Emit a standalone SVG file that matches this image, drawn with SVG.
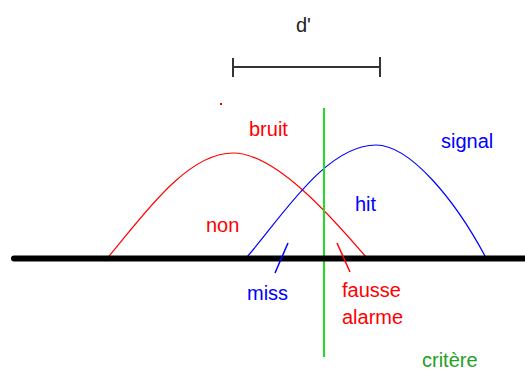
<svg xmlns="http://www.w3.org/2000/svg" width="525" height="372" viewBox="0 0 525 372">
<style>
text{font-family:"Liberation Sans",Arial,sans-serif;font-size:20px}
.r{fill:#ff0000}.b{fill:#0000ff}.g{fill:#22a022}.k{fill:#222}
.cr{fill:none;stroke:#ff0000;stroke-width:1.2}
.cb{fill:none;stroke:#0000ff;stroke-width:1.2}
</style>
<rect width="525" height="372" fill="#fff"/>
<g id="dprime">
<line x1="233" y1="67" x2="380" y2="67" stroke="#333" stroke-width="2"/>
<line x1="233" y1="58" x2="233" y2="77" stroke="#333" stroke-width="2"/>
<line x1="380" y1="57" x2="380" y2="77" stroke="#333" stroke-width="2"/>
<text x="296" y="32" class="k">d'</text>
</g>
<rect x="220" y="103" width="2" height="2" fill="#ff0000"/>
<g id="bruit">
<path class="cr" d="M105,261 C140,220 185,153 233,153 C275,153 330,215 366,257"/>
<text x="249" y="136" class="r">bruit</text>
</g>
<g id="signal">
<path class="cb" d="M246,258 C280,220 325,145 376,145 C410,145 455,200 485,256"/>
<text x="441" y="148" class="b">signal</text>
</g>
<g id="critere">
<line x1="324" y1="108" x2="324" y2="357" stroke="#22dd22" stroke-width="2"/>
<text x="422" y="367" class="g">critère</text>
</g>
<g id="axis">
<line x1="14" y1="258.5" x2="525" y2="258.5" stroke="#000" stroke-width="6" stroke-linecap="round"/>
</g>
<g id="labels">
<text x="206" y="232" class="r">non</text>
<text x="355" y="211" class="b">hit</text>
<text x="247" y="300" class="b">miss</text>
<text x="342" y="297" class="r">fausse</text>
<text x="342" y="324" class="r">alarme</text>
</g>
<g id="connectors">
<line x1="288" y1="243" x2="275" y2="273" stroke="#0000ff" stroke-width="1.5"/>
<line x1="337" y1="243" x2="350" y2="272" stroke="#ff0000" stroke-width="1.5"/>
</g>
</svg>
